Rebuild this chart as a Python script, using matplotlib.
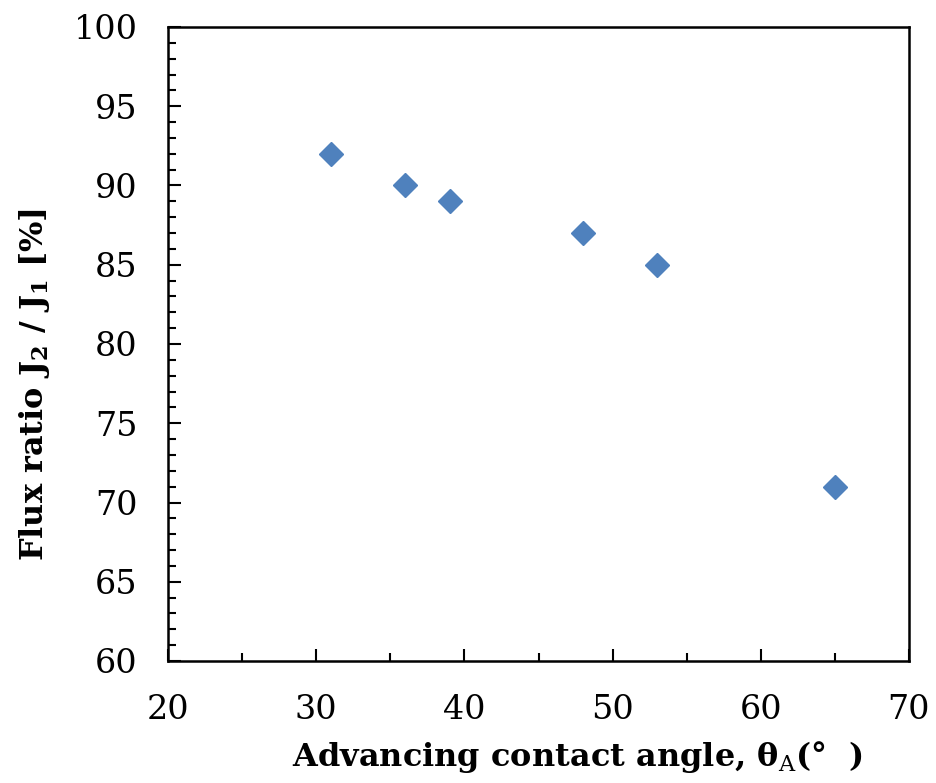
import matplotlib
matplotlib.use("Agg")
import matplotlib.pyplot as plt
from matplotlib.ticker import MultipleLocator

angle = [31, 36, 39, 48, 53, 65]
flux_ratio = [92, 90, 89, 87, 85, 71]

plt.rcParams['font.family'] = ['DejaVu Serif']
plt.rcParams['mathtext.fontset'] = 'dejavuserif'
plt.rcParams['mathtext.default'] = 'bf'

fig = plt.figure(figsize=(9.36, 7.83), dpi=100)
ax = fig.add_axes([168/936, 1-661/783, (909-168)/936, (661-27)/783])

ax.plot(angle, flux_ratio, linestyle='none', marker='D', markersize=12.5,
        color='#4F81BD', markeredgecolor='#4F81BD')

ax.set_xlim(20, 70)
ax.set_ylim(60, 100)
ax.xaxis.set_major_locator(MultipleLocator(10))
ax.xaxis.set_minor_locator(MultipleLocator(5))
ax.yaxis.set_major_locator(MultipleLocator(5))
ax.yaxis.set_minor_locator(MultipleLocator(1))

for s in ax.spines.values():
    s.set_linewidth(1.8)
ax.tick_params(which='both', direction='in', width=1.5, labelsize=24, top=False, right=False)
ax.tick_params(which='major', length=9)
ax.tick_params(which='minor', length=6)
ax.tick_params(axis='y', which='major', pad=22)
ax.tick_params(axis='x', which='major', pad=24)

ax.set_xlabel(r'Advancing contact angle, $\theta_\mathrm{A}$(°  )', fontsize=23,
              fontweight='bold')
ax.xaxis.set_label_coords((577-168)/741, -(739-661)/634)
ax.set_ylabel(r'Flux ratio J$_2$ / J$_1$ [%]', fontsize=23, fontweight='bold')
ax.yaxis.set_label_coords(-(168-52)/741, (661-385)/634)

fig.savefig('out.png', dpi=100)
